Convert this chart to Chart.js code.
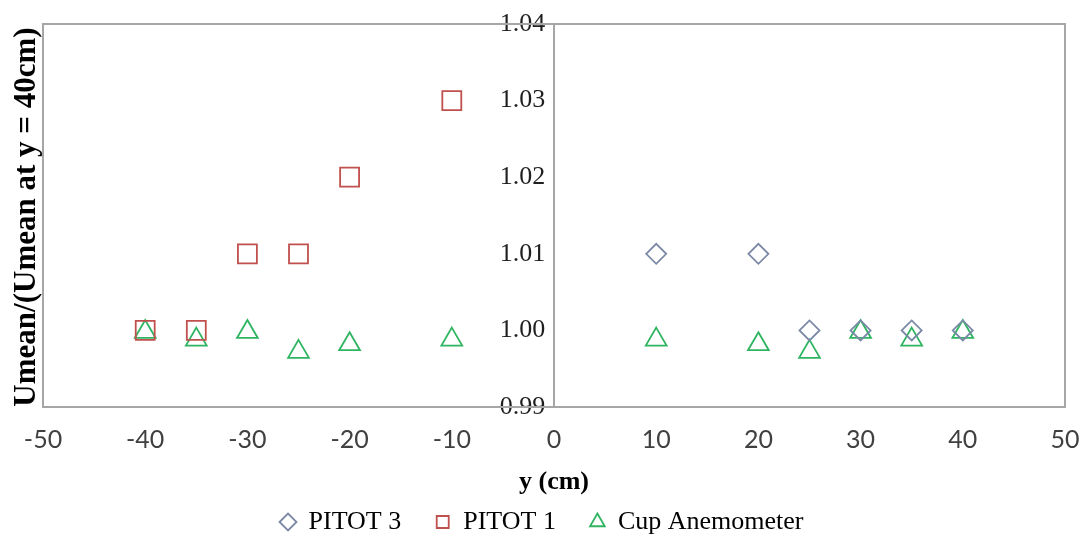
<!DOCTYPE html>
<html lang="en">
<head>
  <meta charset="UTF-8" />
  <title>Umean profile</title>
  <style>
    html, body { margin: 0; padding: 0; background: #ffffff; }
    #wrap { width: 1081px; height: 538px; }
  </style>
</head>
<body>
  <div id="wrap"><canvas id="chart" width="1081" height="538"></canvas></div>
  <script src="https://cdn.jsdelivr.net/npm/chart.js"></script>
  <script>
    // measurement positions (cm) and normalised mean velocity
    const pitot3Y = [10, 20, 25, 30, 35, 40];
    const pitot3U = [1.01, 1.01, 1.00, 1.00, 1.00, 1.00];

    const pitot1Y = [-40, -35, -30, -25, -20, -10];
    const pitot1U = [1.00, 1.00, 1.01, 1.01, 1.02, 1.03];

    const cupY = [-40, -35, -30, -25, -20, -10, 10, 20, 25, 30, 35, 40];
    const cupU = [0.9998, 0.9988, 0.9998, 0.9972, 0.9982, 0.9988, 0.9988, 0.9982, 0.9972, 0.9998, 0.9988, 0.9998];

    const xTicks = [-50, -40, -30, -20, -10, 0, 10, 20, 30, 40, 50];
    const yTicks = [0.99, 1.00, 1.01, 1.02, 1.03, 1.04];

    const seriesNames = ['PITOT 3', 'PITOT 1', 'Cup Anemometer'];

    const frameColor = '#a6a6a6';
    const serif = '"Liberation Serif", "Times New Roman", serif';

    function toPoints(xs, ys) {
      return xs.map((x, i) => ({ x: x, y: ys[i] }));
    }

    // plot frame, rotated y title, and a small nudge of the legend row
    const framePlugin = {
      id: 'frame',
      afterLayout(chart) {
        const lg = chart.legend;
        if (lg) {
          lg.left -= 12;
          lg.right -= 12;
        }
      },
      beforeDatasetsDraw(chart) {
        const a = chart.chartArea;
        const ctx = chart.ctx;
        ctx.save();
        ctx.strokeStyle = frameColor;
        ctx.lineWidth = 2;
        ctx.strokeRect(a.left, a.top, a.right - a.left, a.bottom - a.top);
        ctx.restore();
      },
      afterDraw(chart) {
        const ctx = chart.ctx;
        ctx.save();
        ctx.translate(27, 217);
        ctx.rotate(-Math.PI / 2);
        ctx.font = 'bold 31px ' + serif;
        ctx.fillStyle = '#000000';
        ctx.textAlign = 'center';
        ctx.textBaseline = 'middle';
        ctx.fillText('Umean/(Umean at y = 40cm)', 0, 0);
        ctx.restore();
      }
    };

    new Chart(document.getElementById('chart').getContext('2d'), {
      type: 'scatter',
      data: {
        datasets: [
          {
            label: seriesNames[0],
            data: toPoints(pitot3Y, pitot3U),
            pointStyle: 'rectRot',
            pointRadius: 10,
            pointBorderWidth: 1.8,
            borderColor: '#7b88a6',
            backgroundColor: 'rgba(0,0,0,0)'
          },
          {
            label: seriesNames[1],
            data: toPoints(pitot1Y, pitot1U),
            pointStyle: 'rect',
            pointRadius: 13.4,
            pointBorderWidth: 1.8,
            borderColor: '#c0504d',
            backgroundColor: 'rgba(0,0,0,0)'
          },
          {
            label: seriesNames[2],
            data: toPoints(cupY, cupU),
            pointStyle: 'triangle',
            pointRadius: 12,
            pointBorderWidth: 1.8,
            borderColor: '#2fb561',
            backgroundColor: 'rgba(0,0,0,0)'
          }
        ]
      },
      options: {
        responsive: false,
        animation: false,
        layout: { padding: { left: 43, right: 16, top: 24, bottom: -7 } },
        scales: {
          x: {
            type: 'linear',
            position: 'bottom',
            min: -50,
            max: 50,
            afterBuildTicks: (scale) => { scale.ticks = xTicks.map(v => ({ value: v })); },
            afterFit: (scale) => { scale.height = 68; },
            grid: { display: false, drawTicks: true, tickLength: 18 },
            border: { display: true, color: frameColor, width: 2 },
            ticks: {
              padding: 0,
              color: '#404040',
              font: { family: 'Lato, "Open Sans", sans-serif', size: 25 }
            },
            title: {
              display: true,
              text: 'y (cm)',
              color: '#000000',
              padding: { top: 0, bottom: -23 },
              font: { family: serif, size: 26, weight: 'bold' }
            }
          },
          y: {
            type: 'linear',
            position: { x: 0 },
            min: 0.99,
            max: 1.04,
            afterBuildTicks: (scale) => { scale.ticks = yTicks.map(v => ({ value: v })); },
            afterFit: (scale) => { scale.width = 0; },
            grid: { display: false, drawTicks: false },
            border: { display: true, color: frameColor, width: 2 },
            ticks: {
              color: '#1f1f1f',
              font: { family: serif, size: 26 },
              callback: (v) => Number(v).toFixed(2) + ' \u200A'
            }
          }
        },
        plugins: {
          tooltip: { enabled: false },
          legend: {
            position: 'bottom',
            labels: {
              usePointStyle: true,
              boxWidth: 15,
              boxHeight: 12,
              padding: 34,
              color: '#000000',
              font: { family: serif, size: 26 }
            }
          }
        }
      },
      plugins: [framePlugin]
    });
  </script>
</body>
</html>
